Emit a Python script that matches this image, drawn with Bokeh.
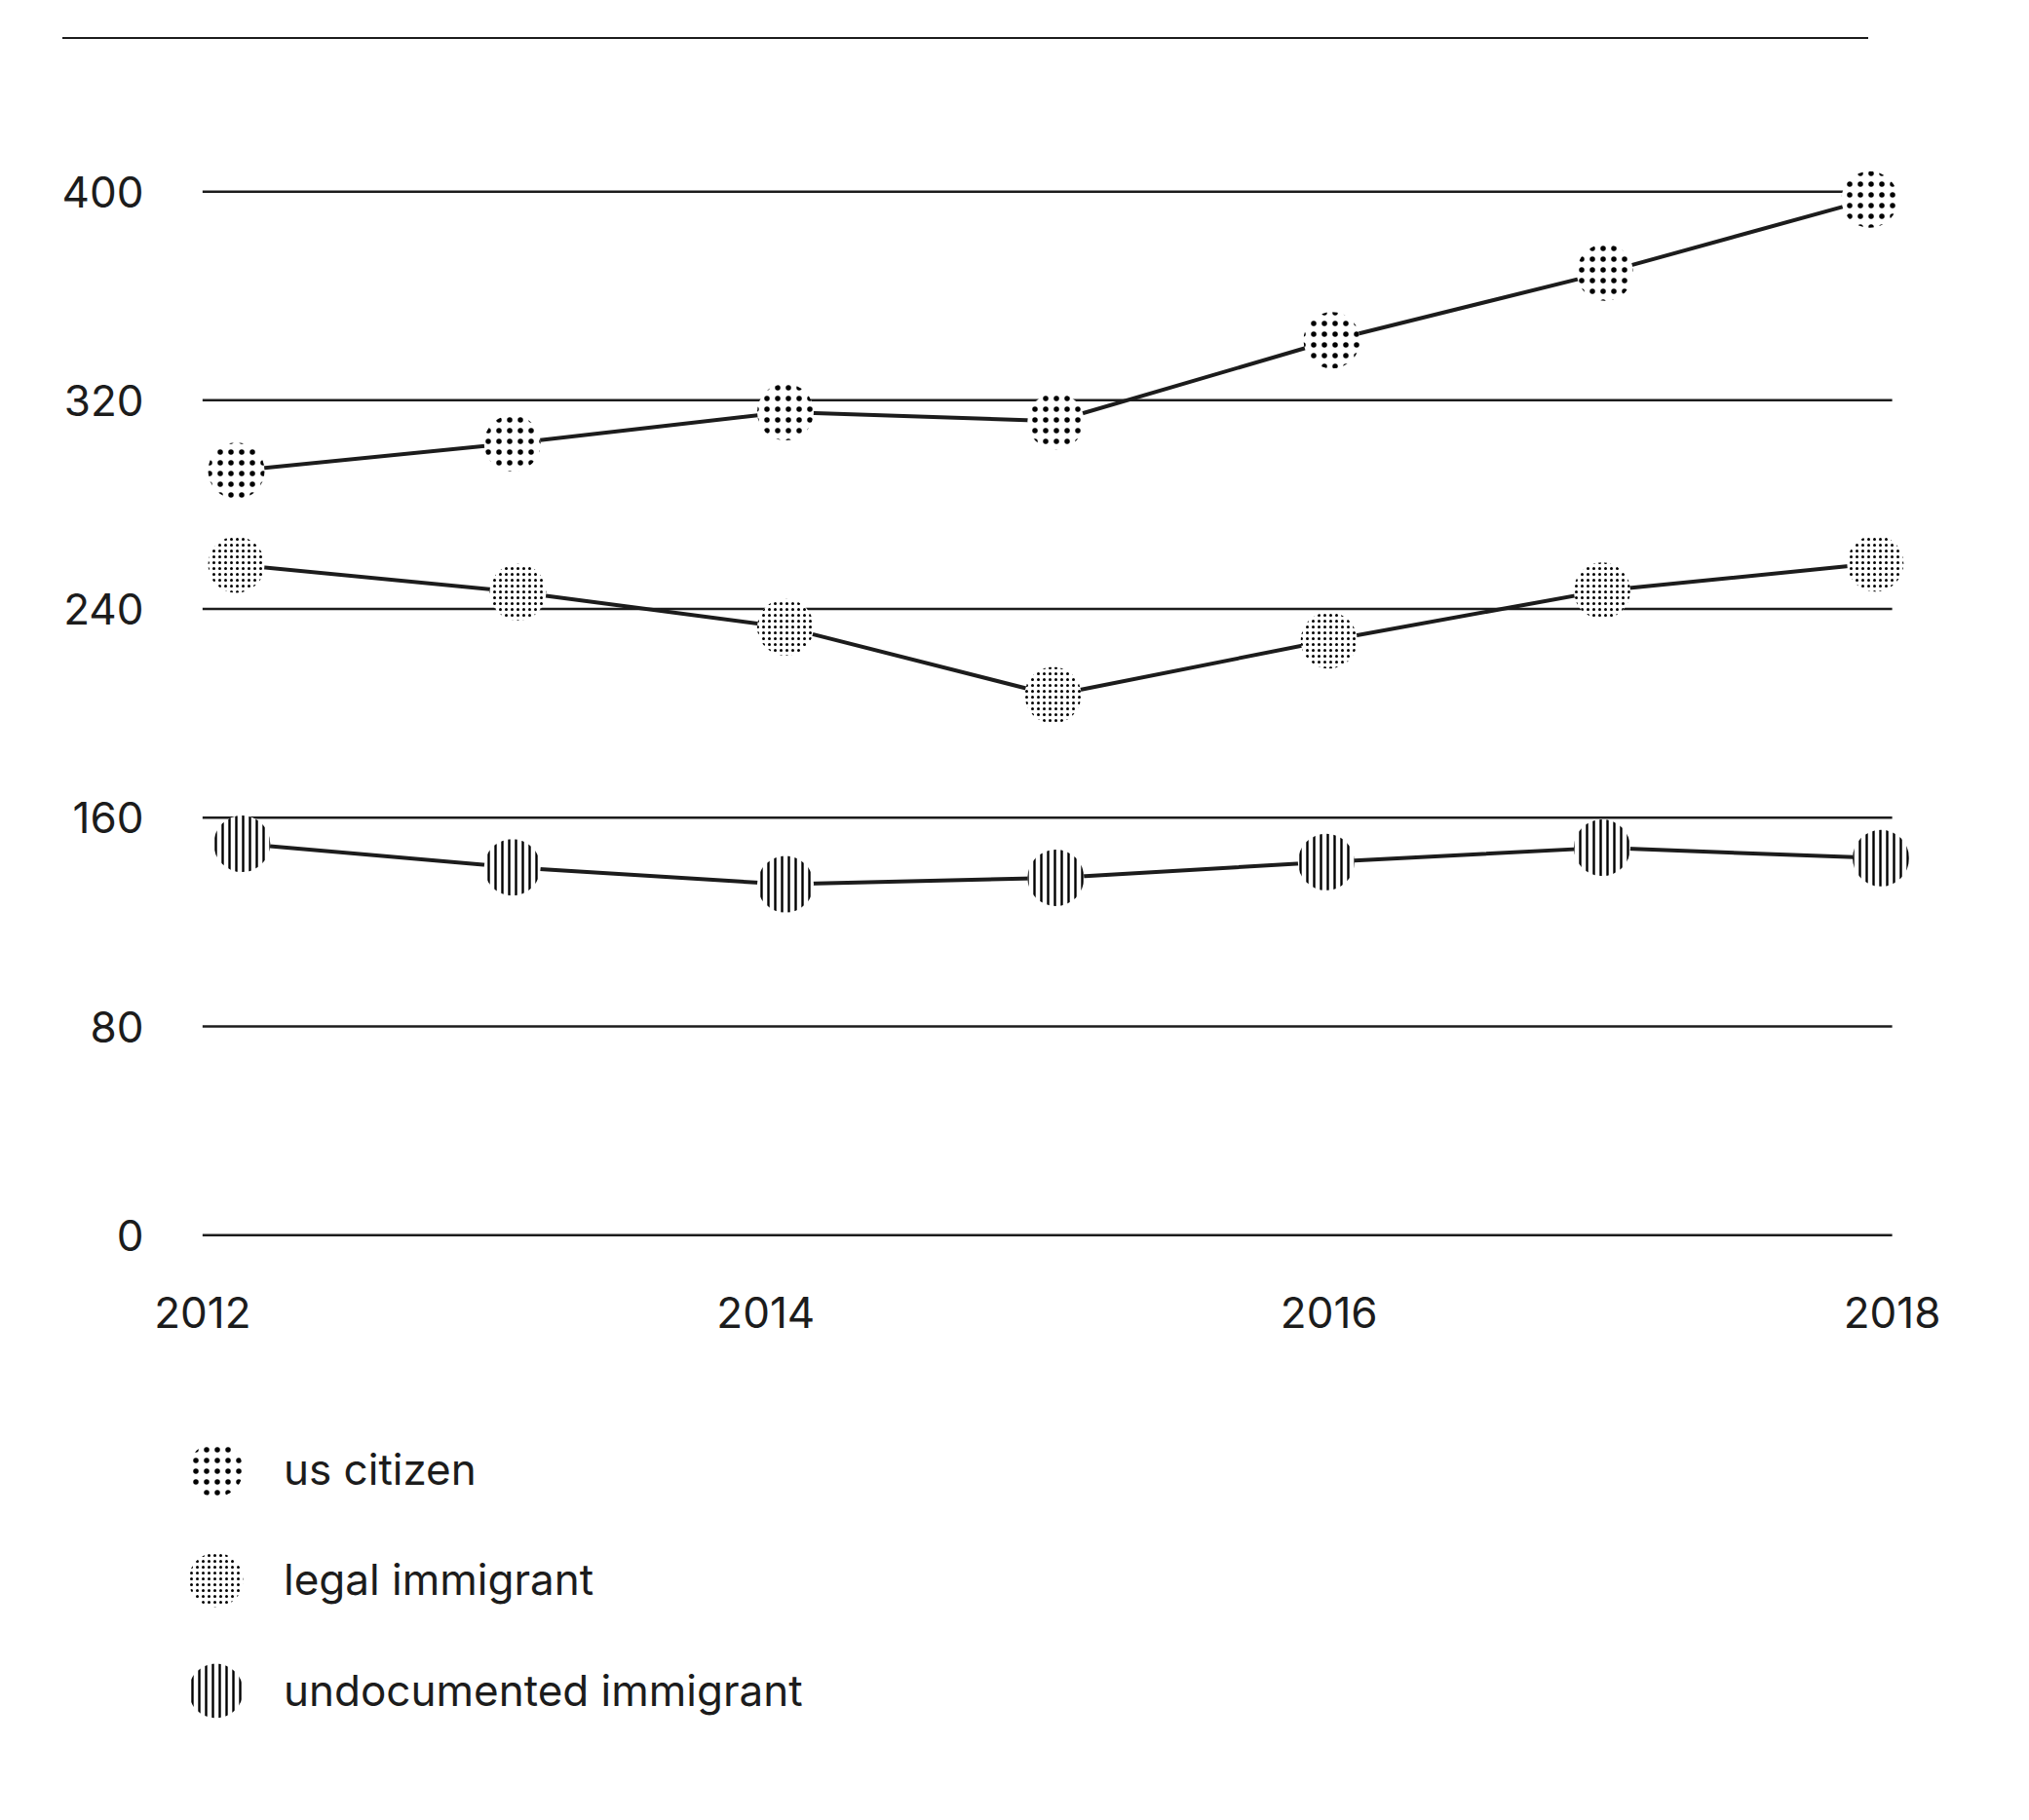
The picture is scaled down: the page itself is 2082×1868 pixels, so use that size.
from bokeh.plotting import figure
from bokeh.models import (Range1d, FixedTicker, Legend, LegendItem, Div)
from bokeh.layouts import column
from bokeh.embed import file_html
from bokeh.resources import INLINE

# ---- data ----
x_ticks = [2012, 2014, 2016, 2018]
y_ticks = [0, 80, 160, 240, 320, 400]

us_x = [2012.12, 2013.10, 2014.07, 2015.03, 2016.01, 2016.98, 2017.92]
us_citizen = [293, 303.5, 315.5, 312, 343, 369, 397]

legal_x = [2012.12, 2013.12, 2014.07, 2015.02, 2016.00, 2016.97, 2017.94]
legal_immigrant = [257, 246.5, 233, 207, 228, 247, 257.5]

undoc_x = [2012.14, 2013.10, 2014.07, 2015.03, 2015.99, 2016.97, 2017.96]
undocumented_immigrant = [150, 141, 134.5, 137, 143, 148.5, 144.5]

labels = ["us citizen", "legal immigrant", "undocumented immigrant"]

FONT = "Inter"
INK = "#1c1c1c"

top_rule = Div(text="", width=1853, height=2, margin=(38, 0, 0, 64),
               styles={"background-color": INK})

p = figure(frame_width=1806, frame_height=1114,
           x_range=Range1d(2011.85, 2018.1), y_range=Range1d(-4, 412),
           output_backend="svg", toolbar_location=None,
           min_border_left=164, min_border_right=70,
           min_border_top=124, min_border_bottom=120,
           background_fill_color="white", border_fill_color="white")
p.outline_line_color = None
p.grid.visible = False

# gridlines from tick values
n = len(y_ticks)
p.segment(x0=[x_ticks[0]] * n, y0=y_ticks, x1=[x_ticks[-1]] * n, y1=y_ticks,
          line_color=INK, line_width=2.5)

styles = [
    dict(hatch_pattern="dot", hatch_scale=11, hatch_weight=1.4),
    dict(hatch_pattern="dot", hatch_scale=6, hatch_weight=3.4),
    dict(hatch_pattern="vertical_line", hatch_scale=7, hatch_weight=2.4),
]
series = [(us_x, us_citizen), (legal_x, legal_immigrant),
          (undoc_x, undocumented_immigrant)]

for (xs, ys), st in zip(series, styles):
    p.line(xs, ys, line_color=INK, line_width=4)
    p.scatter(xs, ys, size=58, marker="circle", fill_color="white",
              line_color=None, hatch_color="black", **st)

for ax in (p.xaxis[0], p.yaxis[0]):
    ax.axis_line_color = None
    ax.major_tick_line_color = None
    ax.minor_tick_line_color = None
    ax.major_label_text_font = FONT
    ax.major_label_text_font_size = "44px"
    ax.major_label_text_color = INK

p.xaxis.ticker = FixedTicker(ticks=x_ticks)
p.yaxis.ticker = FixedTicker(ticks=y_ticks)
p.xaxis.major_label_standoff = 46
p.yaxis.major_label_standoff = 11

# ---- legend panel: a separate figure whose frame holds the legend ----
lf = figure(width=2040, height=455, x_range=Range1d(0, 1), y_range=Range1d(0, 1),
            output_backend="svg", toolbar_location=None,
            x_axis_location=None, y_axis_location=None,
            min_border=0, background_fill_color="white", border_fill_color="white")
lf.outline_line_color = None
lf.grid.visible = False

legend_offsets = [275, 162, 48]   # legend rows, bottom offsets in the panel (px)
for (xs, ys), st, lab, off in zip(series, styles, labels, legend_offsets):
    # same data, outside this panel's ranges: only the legend glyph shows
    r = lf.scatter(xs, ys, size=58, marker="circle", fill_color="white",
                   line_color=None, hatch_color="black", **st)
    lg = Legend(items=[LegendItem(label=lab, renderers=[r])],
                location=(-13, off), orientation="vertical",
                glyph_width=140, glyph_height=140, spacing=0,
                label_standoff=0, padding=0, margin=0,
                border_line_color=None, background_fill_alpha=0,
                label_text_font=FONT, label_text_font_size="44px",
                label_text_color=INK)
    lf.add_layout(lg, "center")

layout = column(top_rule, p, lf, spacing=0)
open("out.html", "w").write(file_html(layout, INLINE))
